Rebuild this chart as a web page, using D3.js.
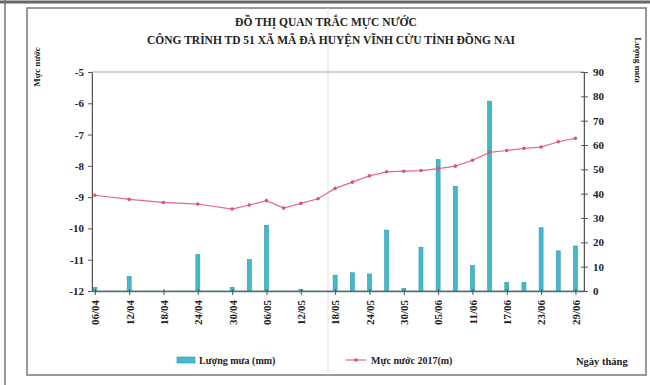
<!DOCTYPE html>
<html>
<head>
<meta charset="utf-8">
<script src="https://cdn.jsdelivr.net/npm/d3@7"></script>
<style>
  body { margin: 0; background: #fff; }
  text { font-family: "Liberation Serif", "Times New Roman", serif; font-weight: bold; fill: #222; }
</style>
</head>
<body>
<div class="chart"></div>
<script>
// ngay do (2017)
var dates = ["06/04","12/04","18/04","24/04","30/04","03/05","06/05","09/05","12/05","15/05",
  "18/05","21/05","24/05","27/05","30/05","02/06","05/06","08/06","11/06","14/06",
  "17/06","20/06","23/06","26/06","29/06"];
// muc nuoc (m)
var mucNuoc = [-8.94,-9.07,-9.17,-9.22,-9.38,-9.25,-9.11,-9.35,-9.20,-9.05,
  -8.72,-8.52,-8.32,-8.19,-8.17,-8.15,-8.09,-8.01,-7.82,-7.57,
  -7.51,-7.44,-7.40,-7.23,-7.12];
// luong mua (mm)
var luongMua = [1.5,6,0,15,1.5,13,27,0,0.6,0,
  6.5,7.5,7,25,1,18,54,43,10.5,78,
  3.5,3.5,26,16.5,18.5];
var leftTicks = [-5,-6,-7,-8,-9,-10,-11,-12];
var rightTicks = [0,10,20,30,40,50,60,70,80,90];
var xTickLabels = ["06/04","12/04","18/04","24/04","30/04","06/05","12/05","18/05","24/05","30/05","05/06","11/06","17/06","23/06","29/06"];

var fullWidth = 650, fullHeight = 385;
var plot = {left: 92, right: 584, top: 72, bottom: 291};

var parseDate = function(s) { return d3.utcParse("%d/%m/%Y")(s + "/2017"); };

var svg = d3.select('.chart').append('svg')
  .attr('width', fullWidth)
  .attr('height', fullHeight);

// khung giay scan
svg.append('line').attr('x1', 0).attr('x2', fullWidth).attr('y1', 2).attr('y2', 2)
  .attr('stroke', '#666').attr('stroke-width', 3);
svg.append('line').attr('x1', 5).attr('x2', 5).attr('y1', 0).attr('y2', fullHeight)
  .attr('stroke', '#777').attr('stroke-width', 1.5);
svg.append('rect').attr('x', 27).attr('y', 8).attr('width', 619).attr('height', 367)
  .attr('fill', 'none').attr('stroke', '#777').attr('stroke-width', 1.5);
svg.append('line').attr('x1', 328).attr('x2', 328).attr('y1', 8).attr('y2', 375)
  .attr('stroke', '#ddd').attr('stroke-width', 1);

var xScale = d3.scaleUtc()
  .domain([d3.utcHour.offset(parseDate("05/04"), 12), d3.utcHour.offset(parseDate("30/06"), 12)])
  .range([plot.left, plot.right]);

var yLeft = d3.scaleLinear().domain([-12, -5]).range([plot.bottom, plot.top]);
var yRight = d3.scaleLinear().domain([0, 90]).range([plot.bottom, plot.top]);

// khung vung ve
svg.append('rect')
  .attr('x', plot.left).attr('y', plot.top)
  .attr('width', plot.right - plot.left).attr('height', plot.bottom - plot.top)
  .attr('fill', 'none').attr('stroke', '#aaa').attr('stroke-width', 1);

// cot luong mua
svg.append('g').selectAll('rect.bar')
    .data(dates)
  .enter().append('rect')
    .attr('class', 'bar')
    .attr('x', function(d) { return xScale(parseDate(d)) - 2; })
    .attr('width', 4)
    .attr('y', function(d, i) { return yRight(luongMua[i]); })
    .attr('height', function(d, i) { return plot.bottom - yRight(luongMua[i]); })
    .attr('fill', '#45b9cc')
    .attr('stroke', '#2b98ab')
    .attr('stroke-width', 0.6);

// duong muc nuoc
var line = d3.line()
  .x(function(d) { return xScale(parseDate(d)); })
  .y(function(d, i) { return yLeft(mucNuoc[i]); });

svg.append('path')
  .datum(dates)
  .attr('d', line)
  .attr('fill', 'none')
  .attr('stroke', '#e46a85')
  .attr('stroke-width', 1.2);

svg.append('g').selectAll('circle')
    .data(dates)
  .enter().append('circle')
    .attr('cx', function(d) { return xScale(parseDate(d)); })
    .attr('cy', function(d, i) { return yLeft(mucNuoc[i]); })
    .attr('r', 1.8)
    .attr('fill', '#d85674');

// truc
var xAxis = d3.axisBottom(xScale)
  .tickValues(xTickLabels.map(parseDate))
  .tickFormat(d3.utcFormat("%d/%m"))
  .tickSizeInner(4).tickSizeOuter(0);

var xAxisEle = svg.append('g')
  .attr('transform', 'translate(0,' + plot.bottom + ')')
  .call(xAxis);
xAxisEle.select('.domain').attr('stroke', '#4b6f78').attr('stroke-width', 1.3);
xAxisEle.selectAll('.tick line').attr('y1', -2).attr('stroke', '#555');
xAxisEle.selectAll('.tick text')
  .attr('transform', 'rotate(-90)')
  .attr('x', -9).attr('y', 0).attr('dy', '0.35em')
  .attr('text-anchor', 'end')
  .style('font-size', '11px');

var yAxisEle = svg.append('g')
  .attr('transform', 'translate(' + plot.left + ',0)')
  .call(d3.axisLeft(yLeft).tickValues(leftTicks).tickFormat(function(d) { return String(d); })
    .tickSizeInner(4).tickSizeOuter(0).tickPadding(4));
yAxisEle.select('.domain').attr('stroke', '#555');
yAxisEle.selectAll('.tick line').attr('stroke', '#555');
yAxisEle.selectAll('.tick text').style('font-size', '11px');

var y2AxisEle = svg.append('g')
  .attr('transform', 'translate(' + plot.right + ',0)')
  .call(d3.axisRight(yRight).tickValues(rightTicks).tickSizeInner(4).tickSizeOuter(0).tickPadding(5));
y2AxisEle.select('.domain').attr('stroke', '#555');
y2AxisEle.selectAll('.tick line').attr('x1', -3).attr('stroke', '#555');
y2AxisEle.selectAll('.tick text').style('font-size', '11px');

// tieu de
svg.append('text').attr('x', 326).attr('y', 26).attr('text-anchor', 'middle')
  .style('font-size', '11.5px').text('ĐỒ THỊ QUAN TRẮC MỰC NƯỚC');
svg.append('text').attr('x', 331).attr('y', 44).attr('text-anchor', 'middle')
  .style('font-size', '11.5px').text('CÔNG TRÌNH TD 51 XÃ MÃ ĐÀ HUYỆN VĨNH CỬU TỈNH ĐỒNG NAI');

svg.append('text').attr('transform', 'translate(40,67) rotate(-90)')
  .attr('text-anchor', 'middle').style('font-size', '9px').text('Mực nước');
svg.append('text').attr('transform', 'translate(635,60) rotate(90)')
  .attr('text-anchor', 'middle').style('font-size', '9px').text('Lượng mưa');

// chu giai
svg.append('rect').attr('x', 177).attr('y', 357).attr('width', 18).attr('height', 6)
  .attr('fill', '#45b9cc').attr('stroke', '#2b98ab').attr('stroke-width', 0.6);
svg.append('text').attr('x', 199).attr('y', 364).style('font-size', '10px').text('Lượng mưa (mm)');
svg.append('line').attr('x1', 346).attr('x2', 366).attr('y1', 360).attr('y2', 360)
  .attr('stroke', '#e46a85').attr('stroke-width', 1.2);
svg.append('circle').attr('cx', 356).attr('cy', 360).attr('r', 1.8).attr('fill', '#d85674');
svg.append('text').attr('x', 371).attr('y', 364).style('font-size', '10px').text('Mực nước 2017(m)');
svg.append('text').attr('x', 576).attr('y', 365).style('font-size', '10.5px').text('Ngày tháng');
</script>
</body>
</html>
